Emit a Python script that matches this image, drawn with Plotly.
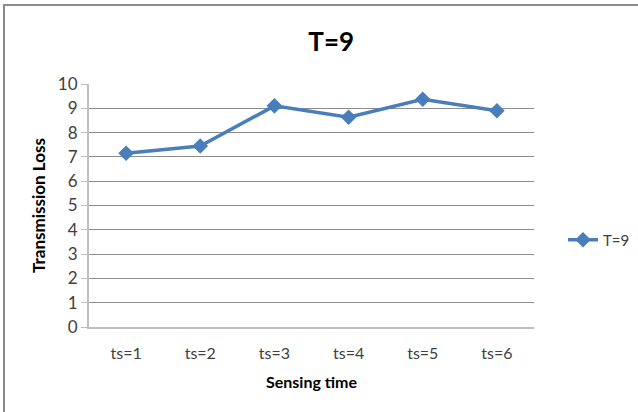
import plotly.graph_objects as go

categories = ["ts=1", "ts=2", "ts=3", "ts=4", "ts=5", "ts=6"]
loss_t9 = [7.15, 7.45, 9.1, 8.63, 9.37, 8.9]
y_ticks = list(range(0, 11))

W, H = 638, 412
L, R, T, B = 89, 104, 84, 85
pw, ph = W - L - R, H - T - B

def px_x(x):
    return (x - L) / pw

def px_y(y):
    return (H - B - y) / ph

blue = "#4a7ebb"
font = "Lato, Carlito, Calibri, sans-serif"

fig = go.Figure()
fig.add_trace(go.Scatter(
    x=categories, y=loss_t9, name="T=9",
    mode="lines+markers",
    line=dict(color=blue, width=3.5),
    marker=dict(symbol="diamond", size=12, color=blue),
))

fig.update_layout(
    width=W, height=H,
    margin=dict(l=L, r=R, t=T, b=B, autoexpand=False),
    paper_bgcolor="white", plot_bgcolor="white",
    font=dict(family=font, size=16, color="#404040"),
    title=dict(text="<b>T=9</b>", x=px_x(320), xanchor="center",
               y=(H - 42) / H, yanchor="middle",
               font=dict(size=26, color="#000000", family=font)),
    showlegend=True,
    legend=dict(x=px_x(563), y=px_y(240), xanchor="left", yanchor="middle",
                font=dict(size=15, color="#404040"), bgcolor="rgba(0,0,0,0)"),
    xaxis=dict(type="category", range=[-0.5, 5.5], showgrid=False,
               showline=True, linecolor="#bfbfbf", linewidth=2,
               ticks="", ticklabelstandoff=11,
               tickfont=dict(size=16, color="#404040"),
               title=dict(text="<b>Sensing time</b>", standoff=16,
                          font=dict(size=16, color="#000000"))),
    yaxis=dict(range=[0, 10], tickvals=y_ticks, showgrid=True,
               gridcolor="#8c8c8c", gridwidth=1,
               showline=True, linecolor="#bfbfbf", linewidth=2,
               ticks="outside", ticklen=6, tickcolor="#bfbfbf",
               zeroline=False,
               tickfont=dict(size=17, color="#404040"),
               title=dict(text="<b>Transmission Loss</b>", standoff=8,
                          font=dict(size=17, color="#000000"))),
    shapes=[
        dict(type="line", xref="paper", yref="paper",
             x0=px_x(4), x1=px_x(4), y0=px_y(4), y1=px_y(412),
             line=dict(color="#8c8c8c", width=2)),
        dict(type="line", xref="paper", yref="paper",
             x0=px_x(4), x1=px_x(638), y0=px_y(5), y1=px_y(5),
             line=dict(color="#8c8c8c", width=2)),
    ],
)

fig.write_html("out.html")
